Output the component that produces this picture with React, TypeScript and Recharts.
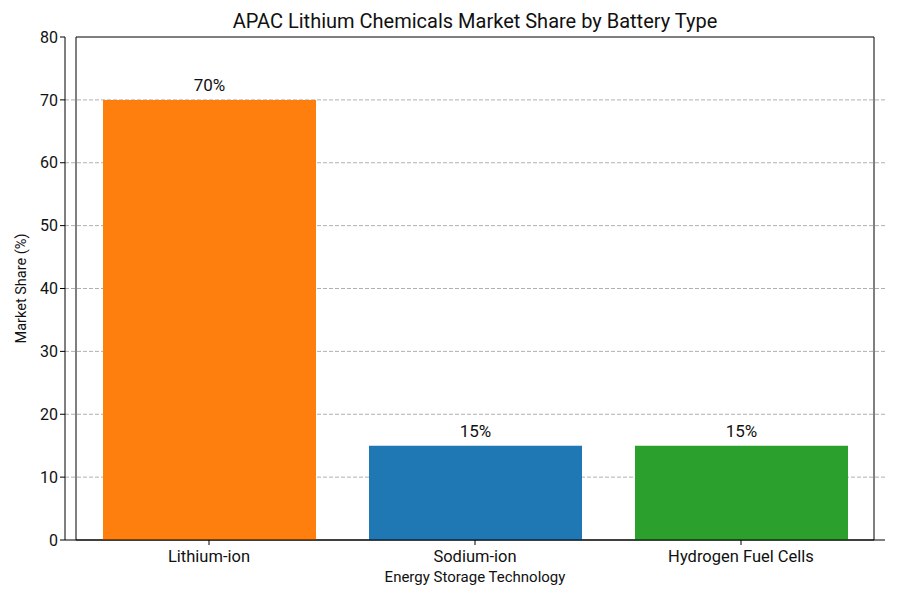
import React from 'react';
import { BarChart, Bar, XAxis, YAxis, CartesianGrid, Cell, LabelList, ReferenceArea } from 'recharts';

const categories = ['Lithium-ion', 'Sodium-ion', 'Hydrogen Fuel Cells'];
const shares = [70, 15, 15];
const colors = ['#ff7f0e', '#1f77b4', '#2ca02c'];
const yTicks = [0, 10, 20, 30, 40, 50, 60, 70, 80];
const gridValues = [10, 20, 30, 40, 50, 60, 70];

const data = categories.map((c, i) => ({ name: c, value: shares[i] }));

const FONT = 'Roboto, "Noto Sans", sans-serif';

export default function App() {
  return (
    <div style={{ position: 'absolute', left: 0, top: 0, width: 900, height: 600, background: '#fff', fontFamily: FONT }}>
      <div style={{ position: 'absolute', top: 9, left: 65, width: 820, textAlign: 'center', fontSize: 20, color: '#111' }}>
        APAC Lithium Chemicals Market Share by Battery Type
      </div>
      <BarChart
        width={900}
        height={600}
        data={data}
        margin={{ top: 37, right: 15, bottom: 15, left: 15 }}
        barCategoryGap={0}
      >
        <CartesianGrid horizontal vertical={false} stroke="#b0b0b0" strokeDasharray="4 2" horizontalValues={gridValues} yAxisId="main" xAxisId="main" />
        <XAxis
          dataKey="name"
          xAxisId="main"
          height={45}
          padding={{ left: 11, right: 11 }}
          tick={{ fontSize: 16.5, fill: '#111', fontFamily: FONT, dy: 3 }}
          tickLine={{ stroke: '#000' }}
          tickSize={5}
          axisLine={{ stroke: '#000' }}
          interval={0}
          label={{ value: 'Energy Storage Technology', position: 'insideBottom', offset: 3, fontSize: 15, fill: '#111', fontFamily: FONT }}
        />
        <YAxis
          yAxisId="main"
          domain={[0, 80]}
          ticks={yTicks}
          width={50}
          tick={{ fontSize: 16, fill: '#111', fontFamily: FONT }}
          tickLine={{ stroke: '#000' }}
          tickSize={5}
          axisLine={{ stroke: '#000' }}
          interval={0}
          label={{ value: 'Market Share (%)', angle: -90, position: 'insideLeft', offset: 6, fontSize: 14.5, fill: '#111', fontFamily: FONT, style: { textAnchor: 'middle' } }}
        />
        <Bar dataKey="value" xAxisId="main" yAxisId="main" barSize={213} isAnimationActive={false}>
          {data.map((d, i) => (
            <Cell key={d.name} fill={colors[i]} />
          ))}
          <LabelList
            dataKey="value"
            position="top"
            offset={9}
            formatter={(v: any) => `${v}%`}
            style={{ fontSize: 17, fill: '#111', fontFamily: FONT }}
          />
        </Bar>
        <ReferenceArea xAxisId="main" yAxisId="main" y1={0} y2={80} fill="none" fillOpacity={0} stroke="#000" strokeWidth={1} ifOverflow="visible" />
      </BarChart>
    </div>
  );
}
